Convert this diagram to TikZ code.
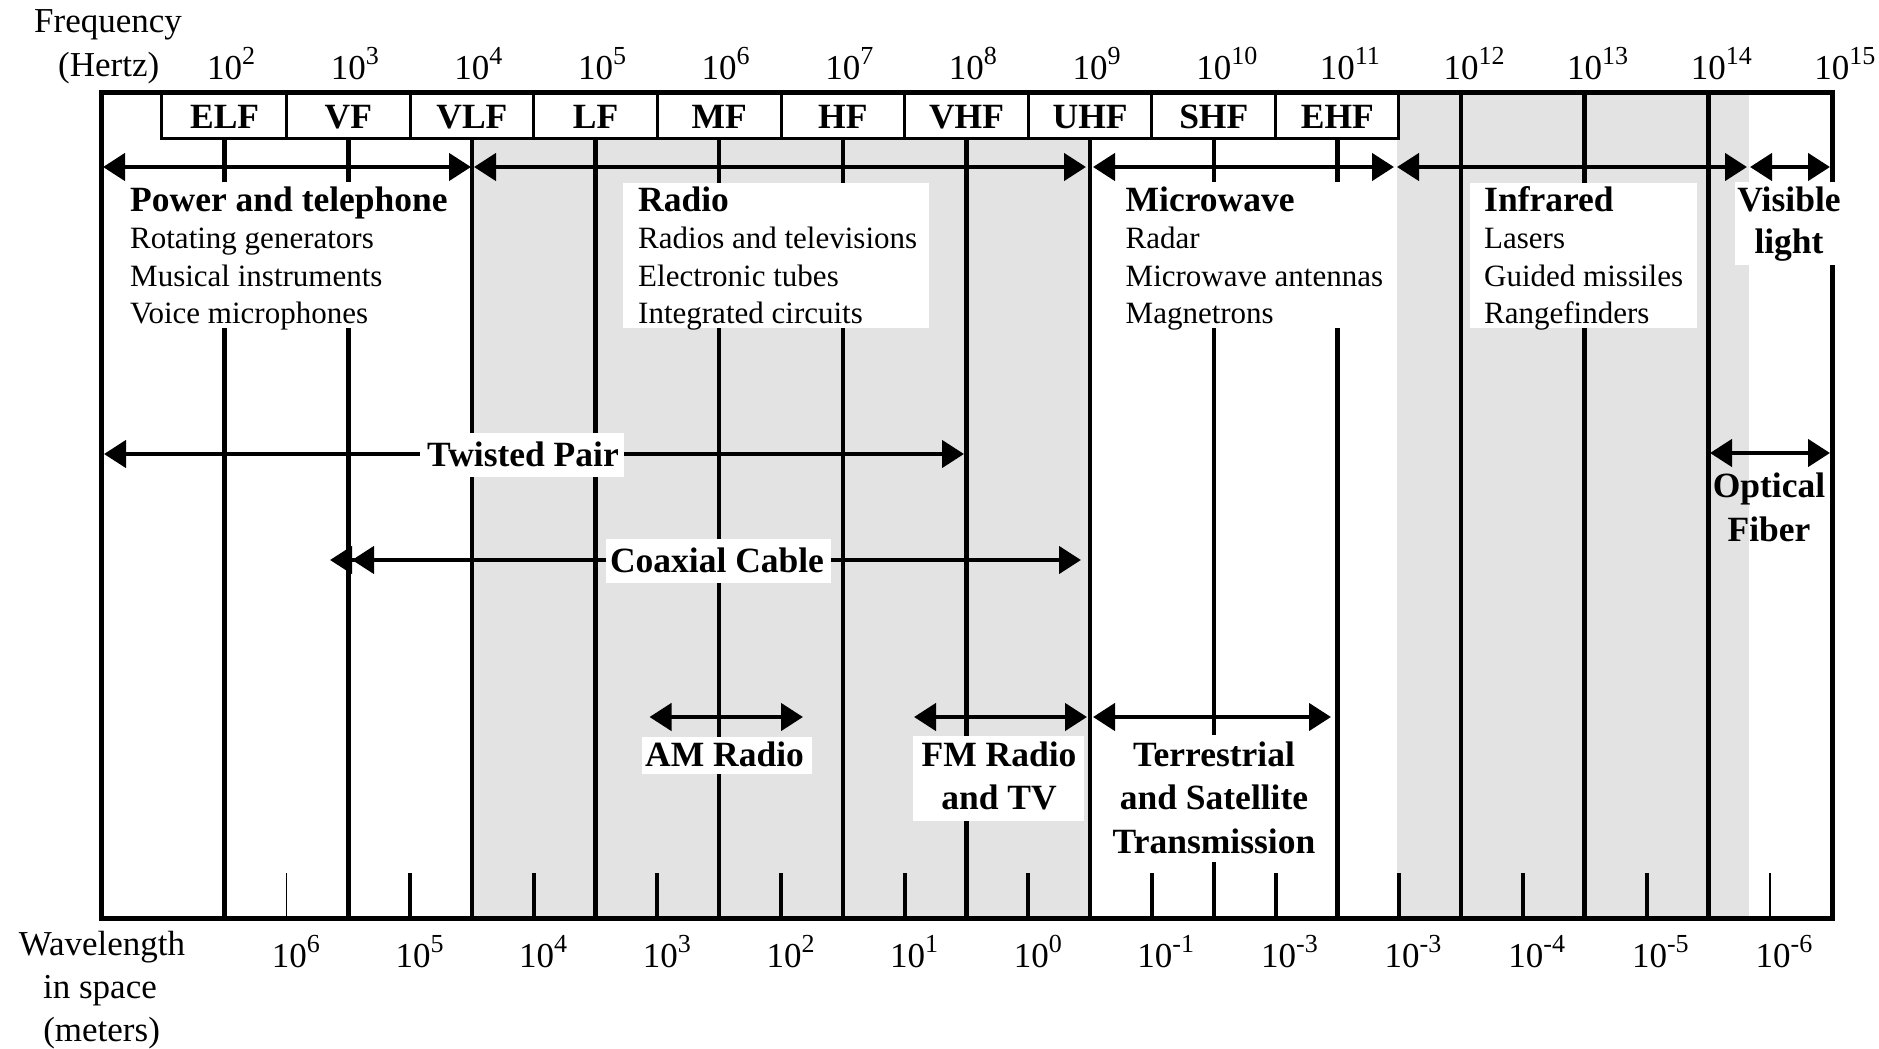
\documentclass[tikz,border=0pt]{standalone}
\usepackage{fontspec}
\setmainfont{Liberation Serif}
\usetikzlibrary{arrows.meta}
\definecolor{bandgray}{RGB}{227,227,227}
\newcommand\sps[1]{\raisebox{15pt}{\fontsize{26}{26}\selectfont #1}}
\begin{document}
\begin{tikzpicture}[x=1pt,y=-1pt,
  declare function={xd(\k)=101+(\k-1)*123.64;},
  vline/.style={line width=4.5pt},
  tickline/.style={line width=4pt},
  thintick/.style={line width=1.8pt},
  dar/.style={line width=4.5pt,{Triangle[length=22pt,width=27pt]}-{Triangle[length=22pt,width=27pt]}},
  dbl/.style={line width=4.5pt,{Triangle[length=22pt,width=27pt] Triangle[length=22pt,width=27pt]}-{Triangle[length=22pt,width=27pt]}},
  axis/.style={font=\fontsize{35}{42}\selectfont,inner sep=0pt},
  head/.style={font=\bfseries\fontsize{35.5}{42}\selectfont,inner sep=0pt},
  body/.style={font=\fontsize{31}{37}\selectfont,inner sep=0pt},
  band/.style={font=\bfseries\fontsize{35.5}{42}\selectfont,inner sep=0pt,anchor=base},
  blank/.style={fill=white}
]
\useasboundingbox (0,0) rectangle (1879,1049);

% shaded regions
\fill[bandgray] ({xd(4)},92) rectangle ({xd(9)},918);
\fill[bandgray] (1396.5,92) rectangle (1749,918);

% decade lines
\foreach \k in {2,...,11} \draw[vline] ({xd(\k)},138) -- ({xd(\k)},918);
\foreach \k in {12,13,14} \draw[vline] ({xd(\k)},92) -- ({xd(\k)},918);
% wavelength ticks
\foreach \k in {3,...,13} \draw[tickline] ({xd(\k+0.5)},873) -- ({xd(\k+0.5)},918);
\draw[thintick] ({xd(2.5)},873) -- ({xd(2.5)},918);
\draw[thintick] ({xd(14.5)},873) -- ({xd(14.5)},918);

% outer frame
\draw[line width=5pt] (101,92) rectangle (1832,918);

% arrow end points
\coordinate (p1) at (103,167);  \coordinate (p2) at (471,167);
\coordinate (r1) at (474,167);  \coordinate (r2) at (1086,167);
\coordinate (m1) at (1093,167); \coordinate (m2) at (1394,167);
\coordinate (i1) at (1397,167); \coordinate (i2) at (1747,167);
\coordinate (v1) at (1750,167); \coordinate (v2) at (1830,167);
\coordinate (tp1) at (104,454); \coordinate (tp2) at (964,454);
\coordinate (cx1) at (330,560); \coordinate (cx2) at (1081,560);
\coordinate (am1) at (649.5,717); \coordinate (am2) at (803,717);
\coordinate (fm1) at (914,717); \coordinate (fm2) at (1087,717);
\coordinate (ts1) at (1093,717); \coordinate (ts2) at (1331,717);
\coordinate (of1) at (1710,453); \coordinate (of2) at (1830,453);

\draw[dar] (p1) -- (p2);
\draw[dar] (r1) -- (r2);
\draw[dar] (m1) -- (m2);
\draw[dar] (i1) -- (i2);
\draw[dar] (v1) -- (v2);
\draw[dar] (tp1) -- (tp2);
\draw[dbl] (cx1) -- (cx2);
\draw[dar] (am1) -- (am2);
\draw[dar] (fm1) -- (fm2);
\draw[dar] (ts1) -- (ts2);
\draw[dar] (of1) -- (of2);

% white backgrounds behind texts
\fill[blank] (120,182) rectangle (460,328);
\fill[blank] (623,183) rectangle (929,328);
\fill[blank] (1112,182) rectangle (1390,328);
\fill[blank] (1470,183) rectangle (1696.5,328);
\fill[blank] (1734.6,182) rectangle (1845,265);
\fill[blank] (420,433) rectangle (624,477);
\fill[blank] (605.7,539) rectangle (831,583);
\fill[blank] (641.5,737) rectangle (811.6,774);
\fill[blank] (912.5,735.7) rectangle (1084,820.7);
\fill[blank] (1110,735) rectangle (1320,862);

% group texts
\node[head,anchor=base west] (pth) at (130,211) {Power and telephone};
\node[body,anchor=base west] (pt1) at (130,248) {Rotating generators};
\node[body,anchor=base west] (pt2) at (130,286) {Musical instruments};
\node[body,anchor=base west] (pt3) at (130,323) {Voice microphones};

\node[head,anchor=base west] (rah) at (638,211) {Radio};
\node[body,anchor=base west] (ra1) at (638,248) {Radios and televisions};
\node[body,anchor=base west] (ra2) at (638,286) {Electronic tubes};
\node[body,anchor=base west] (ra3) at (638,323) {Integrated circuits};

\node[head,anchor=base west] (mwh) at (1125.5,211) {Microwave};
\node[body,anchor=base west] (mw1) at (1125.5,248) {Radar};
\node[body,anchor=base west] (mw2) at (1125.5,286) {Microwave antennas};
\node[body,anchor=base west] (mw3) at (1125.5,323) {Magnetrons};

\node[head,anchor=base west] (irh) at (1484,211) {Infrared};
\node[body,anchor=base west] (ir1) at (1484,248) {Lasers};
\node[body,anchor=base west] (ir2) at (1484,286) {Guided missiles};
\node[body,anchor=base west] (ir3) at (1484,323) {Rangefinders};

\node[head,anchor=base] (vl1) at (1789,211) {Visible};
\node[head,anchor=base] (vl2) at (1789,253) {light};

\node[head,anchor=base] (tpl) at (523,466) {Twisted Pair};
\node[head,anchor=base] (cxl) at (717,572) {Coaxial Cable};
\node[head,anchor=base] (aml) at (724.5,766) {AM Radio};
\node[head,anchor=base] (fml1) at (999,766) {FM Radio};
\node[head,anchor=base] (fml2) at (999,809) {and TV};
\node[head,anchor=base] (tsl1) at (1214,766) {Terrestrial};
\node[head,anchor=base] (tsl2) at (1214,809) {and Satellite};
\node[head,anchor=base] (tsl3) at (1214,853) {Transmission};
\node[head,anchor=base] (ofl1) at (1769,497) {Optical};
\node[head,anchor=base] (ofl2) at (1769,541) {Fiber};

% band box
\draw[line width=3pt,fill=white] (161.5,93) rectangle (1398,138);
\foreach \k in {2,...,10} \draw[line width=3pt] ({xd(\k+0.5)},93) -- ({xd(\k+0.5)},138);
\foreach \k/\n in {2/ELF,3/VF,4/VLF,5/LF,6/MF,7/HF,8/VHF,9/UHF,10/SHF,11/EHF}
  \node[band] (b\k) at ({xd(\k)},128) {\n};
\draw[line width=5pt] (101,92) -- (1832,92);

% axis labels
\node[axis,anchor=base] (fq1) at (108,33) {Frequency};
\node[axis,anchor=base] (fq2) at (108.7,77) {(Hertz)};
\foreach \k in {2,...,15}
  \node[axis,anchor=base] (f\k) at ({xd(\k)},80) {10\rlap{\sps{\k}}};
\node[axis,anchor=base] (wl1) at (102,955) {Wavelength};
\node[axis,anchor=base] (wl2) at (100,998) {in space};
\node[axis,anchor=base] (wl3) at (101.6,1041) {(meters)};
\foreach \k/\e in {2/6,3/5,4/4,5/3,6/2,7/1,8/0,9/-1,10/-3,11/-3,12/-4,13/-5,14/-6}
  \node[axis,anchor=base] (w\k) at ({xd(\k+0.5)+3},967) {10\rlap{\sps{\e}}};
\end{tikzpicture}
\end{document}
